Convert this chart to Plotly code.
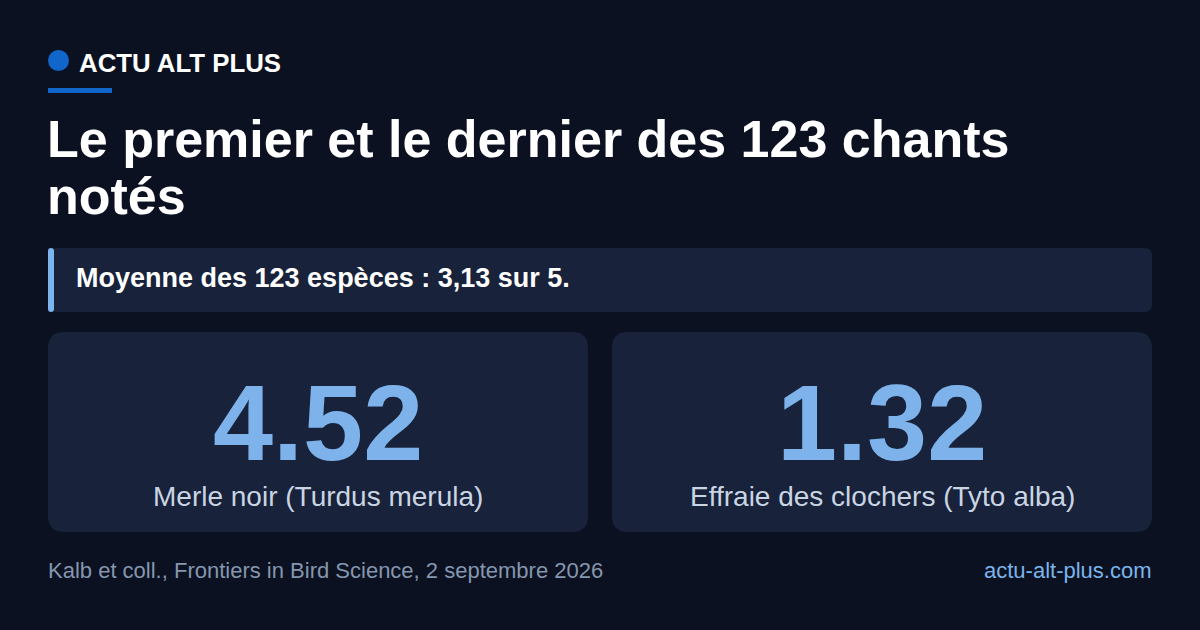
import plotly.graph_objects as go

# --- data ---
brand = "ACTU ALT PLUS"
title_lines = ["Le premier et le dernier des 123 chants", "notés"]
summary = "Moyenne des 123 espèces : 3,13 sur 5."
scores = [4.52, 1.32]
species = ["Merle noir (Turdus merula)", "Effraie des clochers (Tyto alba)"]
source = "Kalb et coll., Frontiers in Bird Science, 2 septembre 2026"
site = "actu-alt-plus.com"

# --- style ---
W, H = 1200, 630
BG = "#0b1120"
CARD = "#18223a"
DOT = "#1166cc"
ACCENT = "#7cb4ec"
NUM = "#7db3ea"
LABEL = "#c9d5e3"
MUTED = "#8596ae"
FONT = "Liberation Sans, Arial, sans-serif"


def rounded_rect(x0, y0, x1, y1, r):
    return (f"M {x0+r},{y0} L {x1-r},{y0} Q {x1},{y0} {x1},{y0+r} "
            f"L {x1},{y1-r} Q {x1},{y1} {x1-r},{y1} L {x0+r},{y1} "
            f"Q {x0},{y1} {x0},{y1-r} L {x0},{y0+r} Q {x0},{y0} {x0+r},{y0} Z")


fig = go.Figure()
shapes = []
ann = []

# header
shapes.append(dict(type="circle", x0=48, x1=69, y0=50, y1=71,
                   fillcolor=DOT, line_width=0))
shapes.append(dict(type="rect", x0=48, x1=112, y0=88, y1=93,
                   fillcolor=DOT, line_width=0))
ann.append(dict(x=77, y=63, text=brand, xanchor="left", yanchor="middle",
                font=dict(family=FONT, size=25.8, color="white", weight="bold")))

# title
for i, line in enumerate(title_lines):
    ann.append(dict(x=45, y=139 + 57 * i, text=line, xanchor="left", yanchor="middle",
                    font=dict(family=FONT, size=52, color="white", weight="bold")))

# summary callout
shapes.append(dict(type="path", path=rounded_rect(48, 248, 1152, 312, 8),
                   fillcolor=CARD, line_width=0))
shapes.append(dict(type="path", path=rounded_rect(48, 248, 54, 312, 3),
                   fillcolor=ACCENT, line_width=0))
ann.append(dict(x=74, y=278, text=summary, xanchor="left", yanchor="middle",
                font=dict(family=FONT, size=27, color="white", weight="bold")))

# score cards
card_x = [(48, 588), (612, 1152)]
for (x0, x1), score, name in zip(card_x, scores, species):
    shapes.append(dict(type="path", path=rounded_rect(x0, 332, x1, 532, 16),
                       fillcolor=CARD, line_width=0))
    cx = (x0 + x1) / 2
    ann.append(dict(x=cx, y=422, text=f"{score:.2f}", xanchor="center", yanchor="middle",
                    font=dict(family=FONT, size=108, color=NUM, weight="bold")))
    ann.append(dict(x=cx, y=496, text=name, xanchor="center", yanchor="middle",
                    font=dict(family=FONT, size=28, color=LABEL)))

# footer
ann.append(dict(x=46, y=570, text=source, xanchor="left", yanchor="middle",
                font=dict(family=FONT, size=22, color=MUTED)))
ann.append(dict(x=1154, y=570, text=site, xanchor="right", yanchor="middle",
                font=dict(family=FONT, size=22, color=ACCENT)))

for a in ann:
    a.update(xref="x", yref="y", showarrow=False)
for s in shapes:
    s.update(xref="x", yref="y", layer="below")

fig.update_layout(
    width=W, height=H,
    margin=dict(l=0, r=0, t=0, b=0),
    paper_bgcolor=BG, plot_bgcolor=BG,
    xaxis=dict(range=[0, W], visible=False, fixedrange=True),
    yaxis=dict(range=[H, 0], visible=False, fixedrange=True),
    shapes=shapes, annotations=ann, showlegend=False,
)

fig.write_html(
    "out.html",
    config={"displayModeBar": False},
    post_script=f"document.body.style.margin='0';document.body.style.background='{BG}';",
)
